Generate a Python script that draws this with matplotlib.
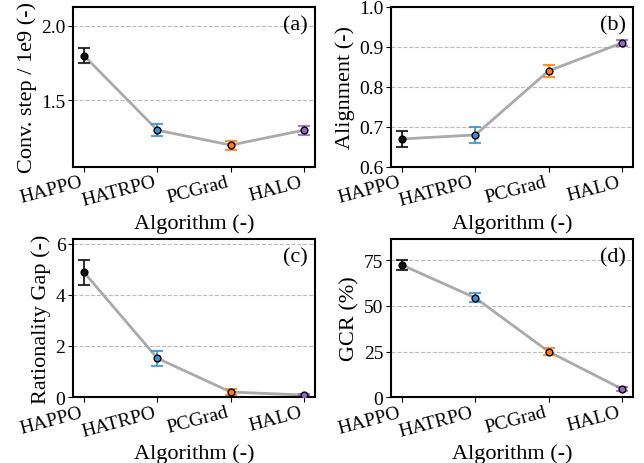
import matplotlib
matplotlib.use("Agg")
import matplotlib.pyplot as plt
import numpy as np

plt.rcParams['font.family'] = ['Liberation Serif', 'DejaVu Serif']

algorithms = ["HAPPO", "HATRPO", "PCGrad", "HALO"]
colors = ["#111111", "#3b8fd4", "#ff7f0e", "#9467bd"]

conv_mean = [1.80, 1.30, 1.20, 1.30]
conv_err = [0.05, 0.04, 0.03, 0.03]

align_mean = [0.67, 0.68, 0.84, 0.91]
align_err = [0.02, 0.02, 0.015, 0.008]

gap_mean = [4.88, 1.52, 0.20, 0.08]
gap_err = [0.50, 0.30, 0.10, 0.04]

gcr_mean = [72.5, 54.5, 25.0, 4.5]
gcr_err = [3.0, 2.5, 2.0, 1.0]

panels = [
    (conv_mean, conv_err, "Conv. step / 1e9 (-)", "(a)"),
    (align_mean, align_err, "Alignment (-)", "(b)"),
    (gap_mean, gap_err, "Rationality Gap (-)", "(c)"),
    (gcr_mean, gcr_err, "GCR (%)", "(d)"),
]

fig = plt.figure(figsize=(6.44, 4.64), dpi=100)
rects = [
    [0.1134, 0.638, 0.3757, 0.345],
    [0.607, 0.638, 0.3757, 0.345],
    [0.1134, 0.142, 0.3757, 0.341],
    [0.607, 0.142, 0.3757, 0.341],
]
axes = [fig.add_axes(r) for r in rects]
x = np.arange(len(algorithms))

for ax, (mean, err, ylabel, tag) in zip(axes, panels):
    ax.plot(x, mean, color="#aaaaaa", lw=2, zorder=1)
    for i in range(len(algorithms)):
        ax.errorbar(x[i], mean[i], yerr=err[i], fmt="none", ecolor=colors[i],
                    elinewidth=1.5, capsize=4, capthick=1.5, alpha=0.85, zorder=2)
        ax.scatter(x[i], mean[i], s=24, color=colors[i], edgecolor="black",
                   linewidth=1, zorder=3)
    ax.set_xticks(x)
    ax.set_xticklabels(algorithms, rotation=15, ha="right", fontsize=14)
    ax.tick_params(axis="y", labelsize=14, pad=2)
    ax.tick_params(axis="x", pad=1)
    ax.set_xlabel("Algorithm (-)", fontsize=16, labelpad=3)
    ax.set_ylabel(ylabel, fontsize=16, labelpad=3)
    ax.yaxis.grid(True, ls="--", color="#bbbbbb", lw=0.8)
    ax.set_axisbelow(True)
    for s in ax.spines.values():
        s.set_linewidth(1.5)
    ax.text(0.97, 0.95, tag, transform=ax.transAxes, ha="right", va="top", fontsize=16)

lo = [m - e for m, e in zip(conv_mean, conv_err)]
hi = [m + e for m, e in zip(conv_mean, conv_err)]
axes[0].set_ylim(min(lo) * 0.9, max(hi) * 1.15)
axes[0].set_yticks([1.5, 2.0])
axes[1].set_ylim(0.6, 1.0)
axes[1].set_yticks([0.6, 0.7, 0.8, 0.9, 1.0])
axes[2].set_ylim(0, (gap_mean[0] + gap_err[0]) * 1.15)
axes[2].set_yticks([0, 2, 4, 6])
axes[3].set_ylim(0, (gcr_mean[0] + gcr_err[0]) * 1.15)
axes[3].set_yticks([0, 25, 50, 75])

fig.savefig("out.png")
